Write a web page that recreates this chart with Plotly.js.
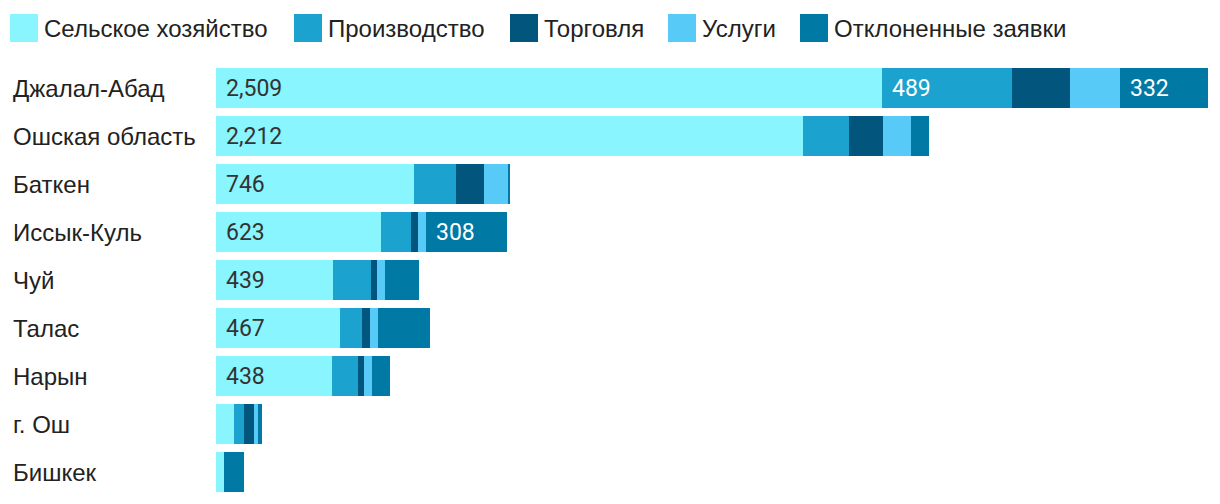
<!DOCTYPE html>
<html>
<head>
<meta charset="utf-8">
<script src="https://cdn.plot.ly/plotly-3.0.1.min.js"></script>
<style>
html,body{margin:0;padding:0;background:#fff;}
#chart{width:1220px;height:504px;}
</style>
</head>
<body>
<div id="chart"></div>
<script>
// ---- data ----
var regions = ["Джалал-Абад","Ошская область","Баткен","Иссык-Куль","Чуй","Талас","Нарын","г. Ош","Бишкек"];
var seriesNames = ["Сельское хозяйство","Производство","Торговля","Услуги","Отклоненные заявки"];
var agriculture = [2509, 2212, 746, 623, 439, 467, 438, 68, 30];
var production  = [489, 173, 158, 113, 143, 83, 98, 38, 0];
var trade       = [218, 128, 105, 23, 23, 30, 23, 38, 0];
var services    = [188, 105, 90, 30, 30, 30, 30, 15, 0];
var rejected    = [332, 68, 8, 308, 128, 196, 68, 15, 75];
var labelMin = 300;

// ---- styling ----
var colors = ["#89F5FF","#1BA2CF","#02557D","#58CAF7","#0079A5"];
var labelColors = ["#333333","#ffffff","#ffffff","#ffffff","#ffffff"];
var series = [agriculture, production, trade, services, rejected];

var ML = 216, MT = 64, PW = 992, PH = 432;
function px2paperX(px){ return (px - ML) / PW; }
function px2paperY(py){ return 1 - (py - MT) / PH; }

var traces = series.map(function(vals, i){
  return {
    type: 'bar',
    orientation: 'h',
    name: seriesNames[i],
    y: regions,
    x: vals,
    marker: {color: colors[i], line: {width: 0}},
    hoverinfo: 'none',
    showlegend: false
  };
});

var annotations = [];
var shapes = [];

// value labels
regions.forEach(function(r, j){
  var base = 0;
  series.forEach(function(vals, i){
    var v = vals[j];
    if (v >= labelMin) {
      annotations.push({
        x: base, y: r, xref: 'x', yref: 'y',
        xanchor: 'left', yanchor: 'middle', xshift: 8,
        text: v.toLocaleString('en-US'),
        showarrow: false,
        font: {family: 'Roboto, sans-serif', size: 23, color: labelColors[i]}
      });
    }
    base += v;
  });
  // category label
  annotations.push({
    x: px2paperX(11), y: r, xref: 'paper', yref: 'y',
    xanchor: 'left', yanchor: 'middle',
    text: r, showarrow: false,
    font: {family: '"Liberation Sans", Arial, sans-serif', size: 24, color: '#222222'}
  });
});

// custom legend
var legendX = [10, 294, 510, 668, 800];
legendX.forEach(function(lx, i){
  shapes.push({
    type: 'rect', xref: 'paper', yref: 'paper',
    x0: px2paperX(lx), x1: px2paperX(lx + 28),
    y0: px2paperY(42), y1: px2paperY(14),
    fillcolor: colors[i], line: {width: 0}
  });
  annotations.push({
    x: px2paperX(lx + 32), y: px2paperY(28), xref: 'paper', yref: 'paper',
    xanchor: 'left', yanchor: 'middle',
    text: seriesNames[i], showarrow: false,
    font: {family: '"Liberation Sans", Arial, sans-serif', size: 24, color: '#222222'}
  });
});

var layout = {
  width: 1220, height: 504,
  margin: {l: ML, r: 1220 - ML - PW, t: MT, b: 504 - MT - PH, pad: 0},
  paper_bgcolor: '#ffffff', plot_bgcolor: '#ffffff',
  barmode: 'stack',
  bargap: 8/48,
  showlegend: false,
  xaxis: {range: [0, 3736], visible: false, fixedrange: true},
  yaxis: {autorange: 'reversed', showticklabels: false, showgrid: false, zeroline: false, showline: false, ticks: '', fixedrange: true},
  annotations: annotations,
  shapes: shapes
};

Plotly.newPlot('chart', traces, layout, {displayModeBar: false, staticPlot: true});
</script>
</body>
</html>
